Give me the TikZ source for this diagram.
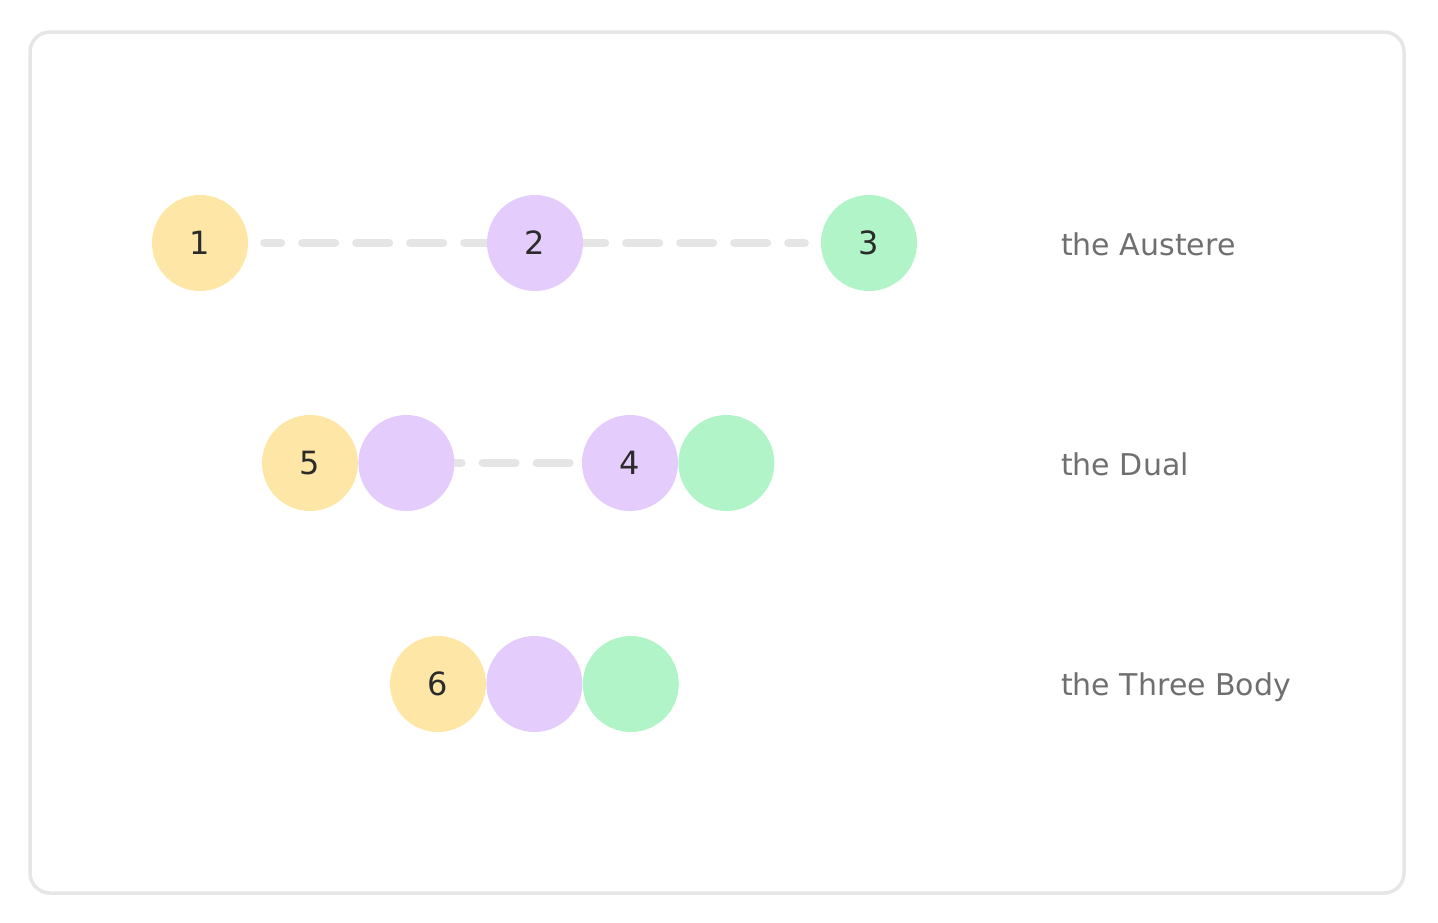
\documentclass[tikz,border=0pt]{standalone}
\usepackage{fontspec}
\setmainfont{DejaVu Sans}
\usepackage{xcolor}
\usepackage{tikz}
\usetikzlibrary{backgrounds, positioning}

\definecolor{ballyellow}{HTML}{FEE7A6}
\definecolor{ballpurple}{HTML}{E4CCFD}
\definecolor{ballgreen}{HTML}{B1F4C8}
\definecolor{linkgray}{HTML}{E5E5E5}
\definecolor{framegray}{HTML}{E6E6E6}
\definecolor{labelgray}{HTML}{6F6F6F}
\definecolor{digitgray}{HTML}{2B2B2B}

\tikzset{
    ball/.style={circle, minimum size=96pt, inner sep=0pt, text=digitgray,
        font=\fontsize{32}{38}\selectfont},
    link/.style={linkgray, line width=8pt, line cap=round,
        dash pattern=on 33pt off 21pt},
    caption/.style={anchor=base west, inner sep=0pt, text=labelgray,
        font=\fontsize{30}{36}\selectfont}
}

\begin{document}
\begin{tikzpicture}[x=1pt, y=-1pt]
    \useasboundingbox (0,0) rectangle (1438,922);

    % Frame
    \draw[framegray, line width=3.5pt, rounded corners=20pt] (30,32) rectangle (1404,893);

    % Nodes for the austere row
    \node[ball, fill=ballyellow] (A1) at (200, 243) {1};
    \node[ball, fill=ballpurple] (A2) at (535, 243) {2};
    \node[ball, fill=ballgreen]  (A3) at (869, 243) {3};

    % Nodes for the dual row
    \node[ball, fill=ballyellow] (D1) at (310, 463) {5};
    \node[ball, fill=ballpurple, right=0pt of D1] (D2) {};
    \node[ball, fill=ballpurple] (D3) at (630, 463) {4};
    \node[ball, fill=ballgreen, right=0pt of D3] (D4) {};

    % Nodes for the three body row
    \node[ball, fill=ballyellow] (T1) at (438, 684) {6};
    \node[ball, fill=ballpurple, right=0pt of T1] (T2) {};
    \node[ball, fill=ballgreen, right=0pt of T2] (T3) {};

    % Row captions
    \node[caption] (LA) at (1061, 255) {the Austere};
    \node[caption] (LD) at (1061, 475) {the Dual};
    \node[caption] (LT) at (1061, 695) {the Three Body};

    % Dashed links behind the balls
    \begin{scope}[on background layer]
        \draw[link, shorten <=16pt, shorten >=16pt, dash phase=16pt] (A1.east) -- (A3.west);
        \draw[link, dash phase=26pt] (D2.east) -- (D3.west);
    \end{scope}

\end{tikzpicture}
\end{document}
